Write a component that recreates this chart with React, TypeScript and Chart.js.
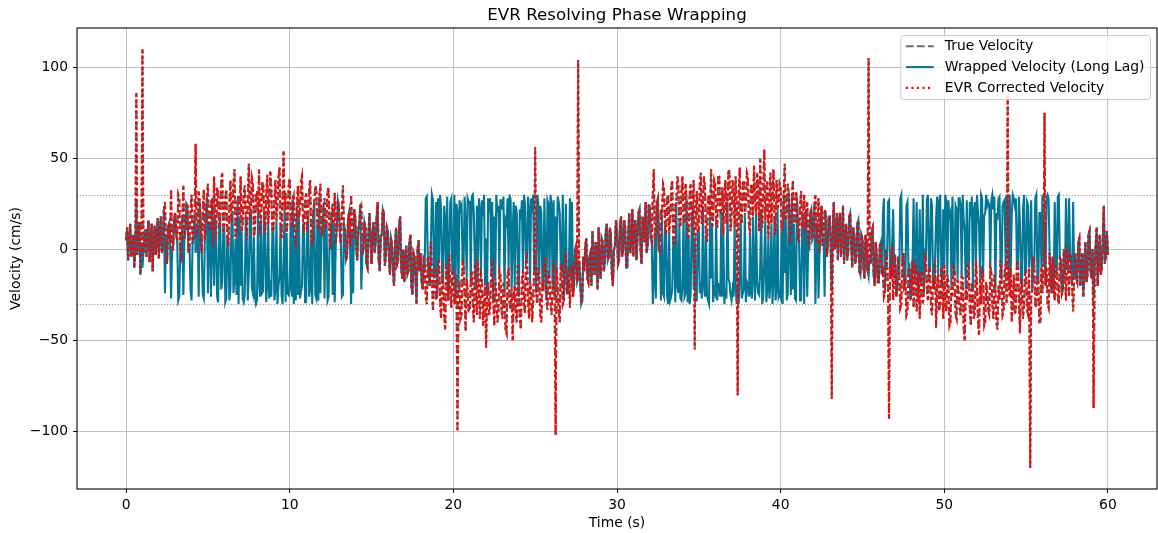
import React, { useEffect, useRef } from "react";
import { Chart, registerables } from "chart.js";

Chart.register(...registerables);

// ---- data (sampled every 1/16 s from 0 s to 60 s) ----
const sampleStep = 0.0625;

const trueVelocity = [
  5, 12, -6, 3, 14, -4, 1, 8, -10, 2, 86, -3, 9, 15, -14, 4,
  110, -2, 6, 11, -4, 9, 16, -7, 2, 14, -12, 5, 13, -3, 8, 17,
  -5, 10, 18, -2, 3, 22, 26, 6, -8, 12, 14, 4, 33, -1, 1, 16,
  20, 8, 5, 30, 28, 0, -3, 18, 35, 6, 10, 25, 24, -2, 2, 21,
  30, 3, 8, 19, 58, 7, 12, 32, 26, 10, -2, 22, 33, 5, 16, 28,
  36, 14, 10, 25, 28, 2, 40, 19, 6, 34, 31, 12, 18, 38, 42, 9,
  12, 29, 33, 8, 2, 24, 38, 15, 21, 36, 44, 6, 9, 27, 30, 18,
  40, 10, 14, 31, 35, 18, 5, 28, 47, 16, 22, 39, 36, 7, 11, 30,
  32, 19, 44, 12, 15, 36, 37, 20, 8, 29, 41, 14, 26, 43, 34, 10,
  10, 27, 38, 16, 24, 40, 45, 13, 6, 30, 54, 22, 31, 9, 17, 35,
  39, 15, 12, 28, 30, 7, 4, 24, 35, 17, 22, 37, 40, 14, 9, 26,
  31, 10, 18, 34, 38, 6, 2, 20, 26, 35, 33, 13, 11, 29, 36, 8,
  8, 24, 28, 11, 16, 32, 34, 5, 0, 21, 25, 14, 31, 3, 12, 27,
  24, 9, 3, 20, 35, 14, 10, -6, -4, 17, 20, 2, 30, 11, 6, 22,
  18, 2, -6, 11, 14, 24, 25, -3, 0, 15, 12, -8, -10, 9, 20, 5,
  -8, 10, 15, -2, 4, 18, 26, -6, -12, 7, 8, 22, 20, -9, -3, 12,
  10, -4, -14, 6, 3, -12, -20, 2, 12, -8, -6, 14, 18, -10, -16, 0,
  -18, -5, 2, -14, -12, 4, 8, -20, -25, -2, -4, -16, -30, 0, 5, -12,
  -2, -18, -22, -6, -8, -26, -30, -4, -14, -20, 4, -12, -34, -16, -10, -28,
  -26, -8, -6, -30, -38, -12, -18, -36, -44, -10, -12, -28, -3, -22, -32, -14,
  -10, -30, -28, -14, -100, -22, -20, -38, -36, -6, -8, -26, -45, -16, -24, -34,
  -34, -18, -12, -30, -40, -8, -22, -36, -5, -26, -38, -14, -16, -42, -30, -20,
  -54, -24, -18, -36, -32, -10, -8, -28, -42, -16, -25, -40, -36, -12, -14, -33,
  -38, -18, -24, -44, -46, -14, -10, -30, -33, -22, -50, -26, -20, -36, -40, -8,
  -26, -38, -44, -16, -12, -30, -35, -6, -4, -28, -38, -18, -22, -40, -30, -10,
  56, -24, -30, -10, -14, -36, -40, -18, -20, -4, -8, -28, -33, -12, -16, -30,
  -36, -20, -6, -26, -102, -10, -22, -34, -40, -8, -12, -30, -28, -4, -2, -24,
  -24, -10, -32, -14, -8, -26, -20, 0, 2, -18, 104, -6, -16, -30, -28, -4,
  -12, 2, 6, -16, -18, -4, -2, -20, 10, -8, -14, 4, -5, -22, 12, -10,
  -16, 6, 4, -12, -8, 10, 14, -6, -4, 12, 8, -14, -20, 0, 2, 16,
  10, -8, -6, 14, 18, -4, 0, 16, 12, -10, -10, 8, 20, -2, 4, 22,
  -4, 12, 16, -6, 6, 20, 22, 0, -8, 18, 14, 4, 26, -2, 2, 24,
  24, 6, 4, 30, 44, 8, 10, 26, 28, 0, -2, 22, 18, 36, 34, 12,
  8, 28, 30, 10, 16, 34, 38, 4, 2, 24, 26, 40, 36, 14, 12, 32,
  40, 18, 14, 36, 28, 8, 6, 30, 36, 12, 22, 38, -55, 20, 32, 10,
  10, 36, 42, 14, 24, 40, 34, 8, 4, 28, 30, 18, 44, 12, 16, 38,
  36, 16, 12, 41, 40, 20, 22, 34, 8, 30, 38, 14, 26, 44, 42, 10,
  18, 38, 34, 12, 40, 24, -80, 30, 45, 16, 14, 36, 38, 20, 24, 42,
  40, 14, 8, 36, 33, 18, 46, 26, 20, 42, 36, 10, 50, 22, 12, 34,
  55, 16, 28, 38, 6, 24, 42, 14, 30, 44, 18, 8, 38, 22, 26, 36,
  34, 10, 12, 30, 47, 16, 20, 36, 30, 6, 8, 28, 38, 14, 16, 32,
  28, 8, 4, 24, 32, 12, 18, 30, 10, 22, 26, 4, 2, 20, 22, 6,
  8, 24, 30, 4, 14, 28, -2, 16, 24, 2, 6, 22, 20, -4, 0, 18,
  18, 2, -82, 12, 26, 0, 4, 20, -6, 14, 20, -4, 10, 24, -8, 6,
  14, -6, -2, 18, 20, 2, -10, 12, 8, -8, -4, 14, 16, -12, -14, 8,
  6, -10, -16, 8, 2, -12, 105, -4, -8, 10, 12, -14, -20, 4, -4, -18,
  -18, 2, 4, -14, -12, -26, -24, 0, -6, -20, -93, -10, -16, 2, -28, -8,
  -6, -26, -22, -4, -14, -32, -30, -8, -2, -20, -18, -36, -34, -12, -10, -28,
  -20, -6, -32, -16, -8, -34, -26, -12, -38, -18, -12, -30, -24, -2, -4, -22,
  -28, -12, -10, -32, -36, -16, -22, -6, -43, -20, -14, -34, -30, -10, -20, -38,
  -8, -30, -34, -14, -18, -42, -40, -20, -26, -10, -12, -36, -38, -16, -24, -32,
  -36, -14, -16, -44, -50, -22, -28, -8, -10, -34, -42, -18, -22, -38, -34, -6,
  -20, -40, -47, -16, -30, -12, -14, -42, -40, -18, -24, -34, -36, -10, -12, -30,
  -38, -14, -22, -40, -44, -20, -28, -6, -16, -36, -34, -12, -8, -30, 85, -18,
  -26, -10, -40, -30, -14, -36, -32, -8, -6, -28, -46, -16, -20, -38, -30, -12,
  -12, -34, -36, -10, -120, -26, -22, -4, -8, -32, -30, -14, -18, -40, -40, -10,
  -24, -6, 75, -20, -10, -30, -32, -2, -16, -24, -4, -22, -28, -8, -12, -26,
  -30, -4, -6, -24, -22, 0, -14, -28, 2, -12, -26, -2, -8, -20, -34, -14,
  -2, -16, -18, 4, 6, -20, -12, -2, -26, -8, 4, -18, -14, 8, 10, -12,
  -16, 0, -87, -12, 2, 12, -20, -2, 8, -14, -10, 6, 24, -8, -4, 10,
  -3,
];

const wrappedVelocity = [
  5, 12, -6, 3, 14, -4, 1, 8, -10, 2, 26, -3, 9, 15, -14, 4,
  -10, -2, 6, 11, -4, 9, 16, -7, 2, 14, -12, 5, 13, -3, 8, 17,
  -5, 10, 18, -2, 3, 22, -24, 6, -8, 12, 14, 4, -27, -1, 1, 16,
  20, 8, 5, -28, -26, 0, -3, 18, -25, 6, 10, 25, 24, -2, 2, -22,
  -28, 3, 8, 19, -2, 7, 12, -26, 26, 10, -2, -25, -27, 5, 16, 28,
  -24, 14, 10, -26, 28, 2, -20, 19, 6, -26, -29, 12, 18, -22, -18, 9,
  12, -29, -27, 8, 2, -28, -22, 15, 21, -24, -16, 6, -25, 27, -30, 18,
  -20, 10, -27, -29, -25, 18, 5, -28, -13, 16, 22, -21, -24, 7, -26, -30,
  -28, 19, -16, -26, 15, -24, -23, 20, 8, -29, -19, 14, -27, -17, -26, 10,
  10, -28, -22, 16, -30, -20, -15, 13, -25, -30, -6, 22, -29, 9, -24, -25,
  -21, 15, -26, 28, -30, 7, -28, 24, -25, 17, -27, -23, -20, 14, 9, -29,
  -29, 10, 18, -26, -22, 6, -30, 20, 26, -25, -27, 13, -28, 29, -24, 8,
  8, 24, -27, 11, 16, -28, -26, 5, 0, 21, -25, 14, -29, 3, 12, 27,
  24, 9, 3, -26, -25, 14, 10, -6, -4, 17, 20, 2, -30, 11, -24, 22,
  18, 2, -6, 11, 14, 24, -22, -3, 0, 15, 12, -8, -10, 9, 20, 5,
  -8, 10, 15, -2, 4, 18, 26, -6, -12, 7, 8, 22, 20, -9, -3, 12,
  10, -4, -14, 6, 3, -12, -20, 2, 12, -8, -6, 14, 18, -10, -16, 0,
  -18, -5, 2, -14, -12, 4, 8, -20, -25, -2, -4, -16, -30, 0, 5, -12,
  -2, -18, -22, -6, -8, 28, 29, -4, -14, -20, 4, 30, 27, -16, -10, 26,
  -26, 28, -6, 30, 22, -12, -18, 24, 16, -10, 29, -28, -3, 26, 28, -14,
  -10, 30, -28, 25, 20, -22, 27, 22, 24, -6, -8, 29, 15, -16, 28, 26,
  26, -18, 29, 30, 20, -8, -22, 24, -5, 28, 22, -14, 27, 18, 30, -20,
  6, -24, 28, 24, 28, -10, 26, -28, 18, -16, 30, 20, 24, -12, 27, 27,
  22, 29, -24, 16, 14, 28, -10, 30, 27, -22, 10, 26, -20, 24, 20, -8,
  -26, 22, 16, 27, -12, 30, 25, -6, -4, 29, 22, -18, 28, 20, 30, -10,
  -4, -24, 30, 26, -14, 24, 20, -18, -20, 28, -8, -28, 27, 25, -16, 30,
  24, -20, 27, -26, 18, -10, 29, 26, 20, -8, -12, 30, -28, -4, 25, -24,
  -24, -10, 28, -14, 26, -26, -20, 0, 2, -18, -16, -6, -16, -30, -28, -4,
  -12, 2, 6, -16, -18, -4, -2, -20, 10, -8, -14, 4, -5, -22, 12, -10,
  -16, 6, 4, -12, -8, 10, 14, -6, -4, 12, 8, -14, -20, 0, 2, 16,
  10, -8, -6, 14, 18, -4, 0, 16, 12, -10, -10, 8, 20, -2, 4, 22,
  -4, 12, 16, -6, 6, 20, 22, 0, -8, 18, 14, 4, 26, -2, 2, 24,
  24, 6, 4, -30, -16, 8, -27, 26, 28, 0, -2, -28, 18, -24, -26, 12,
  8, -26, -30, 10, -28, -26, -22, 4, 2, -29, 26, -20, -24, 14, -27, -28,
  -20, 18, -26, -24, 28, -29, 6, -30, -24, 12, 22, -22, 5, -28, -28, 10,
  10, -24, -18, -27, 24, -20, -26, 8, -25, -28, -30, 18, -16, 12, -29, -22,
  -24, 16, -28, -19, -20, -26, 22, -26, 8, -30, -22, -27, 26, -16, -18, -25,
  -28, -22, -26, 12, -20, -30, -20, -30, -15, 16, -27, -24, -22, 20, -29, -18,
  -20, -26, 8, -24, -27, 18, -14, -28, 20, -18, -24, -25, -10, 22, -30, -26,
  -5, 16, -29, -22, 6, -27, -18, 14, -30, -16, 18, -28, -22, 22, -26, -24,
  -26, 10, -30, 30, -13, 16, -28, -24, 30, 6, -25, 28, -22, 14, -27, -28,
  28, 8, 4, -28, -28, 12, 18, -30, 10, 22, -26, 4, 2, 20, 22, 6,
  8, 24, -30, 4, 14, -27, -2, 16, 24, 2, 6, -26, 20, -4, 0, 18,
  18, 2, -22, 12, 26, 0, 4, 20, -6, 14, 20, -4, 10, 24, -8, 6,
  14, -6, -2, 18, 20, 2, -10, 12, 8, -8, -4, 14, 16, -12, -14, 8,
  6, -10, -16, 8, 2, -12, -15, -4, -8, 10, 12, -14, -20, 4, -4, -18,
  -18, 2, 4, -14, 20, 28, -24, 0, -6, 26, 27, -10, -16, 2, 22, -8,
  -6, -26, -22, -4, -14, 28, 30, -8, -2, -20, -18, 24, 26, -12, -10, -28,
  -20, -6, 28, -16, -8, 26, -26, -12, 22, -18, -12, 30, -24, -2, -4, 27,
  30, -12, -10, 28, 24, -16, -22, -6, 17, 29, -14, 26, 30, -10, -20, 22,
  -8, 30, 26, -14, 27, 18, 20, -20, 29, -10, -12, 24, 22, -16, 28, 28,
  24, -14, 30, 16, 10, -22, 27, -8, -10, 26, 18, 29, -22, 22, 26, -6,
  30, 20, 13, -16, 30, 28, -14, 18, 20, 30, 24, 26, 24, -10, 27, 30,
  22, 29, -22, 20, 16, 28, 29, -6, -16, 24, 26, 27, -8, 30, 25, -18,
  30, -10, 20, 30, 28, 24, 28, -8, -6, 29, 14, -16, -20, 22, 30, -12,
  -12, 26, 24, -10, 0, 27, -22, -4, -8, 28, 30, -14, -18, 20, 20, -10,
  30, -6, 15, -20, 28, 30, 28, -2, -16, -24, -4, -22, 26, -8, -12, 29,
  30, -4, -6, -24, -22, 0, -14, 28, 2, -12, 28, -2, -8, -20, 26, -14,
  -2, -16, -18, 4, 6, -20, -12, -2, -26, -8, 4, -18, -14, 8, 10, -12,
  -16, 0, -27, -12, 2, 12, -20, -2, 8, -14, -10, 6, 24, -8, -4, 10,
  -3,
];

const evrCorrectedVelocity = [
  5, 12, -6, 3, 14, -4, 1, 8, -10, 2, 86, -3, 9, 15, -14, 4,
  110, -2, 6, 11, -4, 9, 16, -7, 2, 14, -12, 5, 13, -3, 8, 17,
  -5, 10, 18, -2, 3, 22, 26, 6, -8, 12, 14, 4, 33, -1, 1, 16,
  20, 8, 5, 30, 28, 0, -3, 18, 35, 6, 10, 25, 24, -2, 2, 21,
  30, 3, 8, 19, 58, 7, 12, 32, 26, 10, -2, 22, 33, 5, 16, 28,
  36, 14, 10, 25, 28, 2, 40, 19, 6, 34, 31, 12, 18, 38, 42, 9,
  12, 29, 33, 8, 2, 24, 38, 15, 21, 36, 44, 6, 9, 27, 30, 18,
  40, 10, 14, 31, 35, 18, 5, 28, 47, 16, 22, 39, 36, 7, 11, 30,
  32, 19, 44, 12, 15, 36, 37, 20, 8, 29, 41, 14, 26, 43, 34, 10,
  10, 27, 38, 16, 24, 40, 45, 13, 6, 30, 54, 22, 31, 9, 17, 35,
  39, 15, 12, 28, 30, 7, 4, 24, 35, 17, 22, 37, 40, 14, 9, 26,
  31, 10, 18, 34, 38, 6, 2, 20, 26, 35, 33, 13, 11, 29, 36, 8,
  8, 24, 28, 11, 16, 32, 34, 5, 0, 21, 25, 14, 31, 3, 12, 27,
  24, 9, 3, 20, 35, 14, 10, -6, -4, 17, 20, 2, 30, 11, 6, 22,
  18, 2, -6, 11, 14, 24, 25, -3, 0, 15, 12, -8, -10, 9, 20, 5,
  -8, 10, 15, -2, 4, 18, 26, -6, -12, 7, 8, 22, 20, -9, -3, 12,
  10, -4, -14, 6, 3, -12, -20, 2, 12, -8, -6, 14, 18, -10, -16, 0,
  -18, -5, 2, -14, -12, 4, 8, -20, -25, -2, -4, -16, -30, 0, 5, -12,
  -2, -18, -22, -6, -8, -26, -30, -4, -14, -20, 4, -12, -34, -16, -10, -28,
  -26, -8, -6, -30, -38, -12, -18, -36, -44, -10, -12, -28, -3, -22, -32, -14,
  -10, -30, -28, -14, -100, -22, -20, -38, -36, -6, -8, -26, -45, -16, -24, -34,
  -34, -18, -12, -30, -40, -8, -22, -36, -5, -26, -38, -14, -16, -42, -30, -20,
  -54, -24, -18, -36, -32, -10, -8, -28, -42, -16, -25, -40, -36, -12, -14, -33,
  -38, -18, -24, -44, -46, -14, -10, -30, -33, -22, -50, -26, -20, -36, -40, -8,
  -26, -38, -44, -16, -12, -30, -35, -6, -4, -28, -38, -18, -22, -40, -30, -10,
  56, -24, -30, -10, -14, -36, -40, -18, -20, -4, -8, -28, -33, -12, -16, -30,
  -36, -20, -6, -26, -102, -10, -22, -34, -40, -8, -12, -30, -28, -4, -2, -24,
  -24, -10, -32, -14, -8, -26, -20, 0, 2, -18, 104, -6, -16, -30, -28, -4,
  -12, 2, 6, -16, -18, -4, -2, -20, 10, -8, -14, 4, -5, -22, 12, -10,
  -16, 6, 4, -12, -8, 10, 14, -6, -4, 12, 8, -14, -20, 0, 2, 16,
  10, -8, -6, 14, 18, -4, 0, 16, 12, -10, -10, 8, 20, -2, 4, 22,
  -4, 12, 16, -6, 6, 20, 22, 0, -8, 18, 14, 4, 26, -2, 2, 24,
  24, 6, 4, 30, 44, 8, 10, 26, 28, 0, -2, 22, 18, 36, 34, 12,
  8, 28, 30, 10, 16, 34, 38, 4, 2, 24, 26, 40, 36, 14, 12, 32,
  40, 18, 14, 36, 28, 8, 6, 30, 36, 12, 22, 38, -55, 20, 32, 10,
  10, 36, 42, 14, 24, 40, 34, 8, 4, 28, 30, 18, 44, 12, 16, 38,
  36, 16, 12, 41, 40, 20, 22, 34, 8, 30, 38, 14, 26, 44, 42, 10,
  18, 38, 34, 12, 40, 24, -80, 30, 45, 16, 14, 36, 38, 20, 24, 42,
  40, 14, 8, 36, 33, 18, 46, 26, 20, 42, 36, 10, 50, 22, 12, 34,
  55, 16, 28, 38, 6, 24, 42, 14, 30, 44, 18, 8, 38, 22, 26, 36,
  34, 10, 12, 30, 47, 16, 20, 36, 30, 6, 8, 28, 38, 14, 16, 32,
  28, 8, 4, 24, 32, 12, 18, 30, 10, 22, 26, 4, 2, 20, 22, 6,
  8, 24, 30, 4, 14, 28, -2, 16, 24, 2, 6, 22, 20, -4, 0, 18,
  18, 2, -82, 12, 26, 0, 4, 20, -6, 14, 20, -4, 10, 24, -8, 6,
  14, -6, -2, 18, 20, 2, -10, 12, 8, -8, -4, 14, 16, -12, -14, 8,
  6, -10, -16, 8, 2, -12, 105, -4, -8, 10, 12, -14, -20, 4, -4, -18,
  -18, 2, 4, -14, -12, -26, -24, 0, -6, -20, -93, -10, -16, 2, -28, -8,
  -6, -26, -22, -4, -14, -32, -30, -8, -2, -20, -18, -36, -34, -12, -10, -28,
  -20, -6, -32, -16, -8, -34, -26, -12, -38, -18, -12, -30, -24, -2, -4, -22,
  -28, -12, -10, -32, -36, -16, -22, -6, -43, -20, -14, -34, -30, -10, -20, -38,
  -8, -30, -34, -14, -18, -42, -40, -20, -26, -10, -12, -36, -38, -16, -24, -32,
  -36, -14, -16, -44, -50, -22, -28, -8, -10, -34, -42, -18, -22, -38, -34, -6,
  -20, -40, -47, -16, -30, -12, -14, -42, -40, -18, -24, -34, -36, -10, -12, -30,
  -38, -14, -22, -40, -44, -20, -28, -6, -16, -36, -34, -12, -8, -30, 85, -18,
  -26, -10, -40, -30, -14, -36, -32, -8, -6, -28, -46, -16, -20, -38, -30, -12,
  -12, -34, -36, -10, -120, -26, -22, -4, -8, -32, -30, -14, -18, -40, -40, -10,
  -24, -6, 75, -20, -10, -30, -32, -2, -16, -24, -4, -22, -28, -8, -12, -26,
  -30, -4, -6, -24, -22, 0, -14, -28, 2, -12, -26, -2, -8, -20, -34, -14,
  -2, -16, -18, 4, 6, -20, -12, -2, -26, -8, 4, -18, -14, 8, 10, -12,
  -16, 0, -87, -12, 2, 12, -20, -2, 8, -14, -10, 6, 24, -8, -4, 10,
  -3,
];

const xTickValues = [0, 10, 20, 30, 40, 50, 60];
const yTickValues = [-100, -50, 0, 50, 100];
const nyquistVelocity = 30;
const seriesLabels = ["True Velocity", "Wrapped Velocity (Long Lag)", "EVR Corrected Velocity"];
const chartTitle = "EVR Resolving Phase Wrapping";
const xAxisLabel = "Time (s)";
const yAxisLabel = "Velocity (cm/s)";

// ---- styles ----
const FONT = "'DejaVu Sans', 'Liberation Sans', sans-serif";
const LW = 2.08;
const GRAY = "#6a6a6a";
const TEAL = "#007896";
const RED = "#ff0000";
const DASH = [7.7, 3.3];
const DOT = [2.08, 3.44];
const DOT_DENSE = [2.7, 2.8];

function toPoints(values: number[]) {
  return values.map((v, i) => ({ x: i * sampleStep, y: v }));
}

function fmtTick(v: number) {
  return v < 0 ? "\u2212" + Math.abs(v) : String(v);
}

const decorPlugin = {
  id: "decor",
  beforeDatasetsDraw(chart: any) {
    const { ctx, chartArea, scales } = chart;
    ctx.save();
    ctx.strokeStyle = "rgba(128,128,128,0.85)";
    ctx.lineWidth = 1.1;
    ctx.setLineDash([1.1, 1.8]);
    for (const v of [nyquistVelocity, -nyquistVelocity]) {
      const y = Math.round(scales.y.getPixelForValue(v)) + 0.5;
      ctx.beginPath();
      ctx.moveTo(chartArea.left, y);
      ctx.lineTo(chartArea.right, y);
      ctx.stroke();
    }
    ctx.restore();
  },
  afterDraw(chart: any) {
    const { ctx, chartArea } = chart;
    const { left, right, top, bottom } = chartArea;
    ctx.save();
    ctx.strokeStyle = "#000";
    ctx.lineWidth = 1.1;
    ctx.setLineDash([]);
    ctx.strokeRect(left, top, right - left, bottom - top);

    ctx.fillStyle = "#000";
    ctx.font = `16.7px ${FONT}`;
    ctx.textAlign = "center";
    ctx.textBaseline = "alphabetic";
    ctx.fillText(chartTitle, (left + right) / 2, top - 8.5);

    ctx.font = `13.9px ${FONT}`;
    ctx.textBaseline = "middle";
    ctx.fillText(xAxisLabel, (left + right) / 2, 523);
    ctx.save();
    ctx.translate(16, (top + bottom) / 2);
    ctx.rotate(-Math.PI / 2);
    ctx.fillText(yAxisLabel, 0, 0);
    ctx.restore();

    // legend
    ctx.font = `13.9px ${FONT}`;
    const fs = 13.9;
    const maxText = Math.max(...seriesLabels.map((s) => ctx.measureText(s).width));
    const pad = 0.4 * fs;
    const handleLen = 2 * fs;
    const handlePad = 0.8 * fs;
    const boxW = pad + handleLen + handlePad + maxText + pad;
    const boxH = 64;
    const boxR = right - 7;
    const boxL = boxR - boxW;
    const boxT = top + 7;
    ctx.beginPath();
    (ctx as any).roundRect(boxL + 0.5, boxT + 0.5, boxW, boxH, 3);
    ctx.fillStyle = "rgba(255,255,255,0.8)";
    ctx.fill();
    ctx.strokeStyle = "#cccccc";
    ctx.lineWidth = 1;
    ctx.stroke();

    const styles = [
      { color: GRAY, dash: DASH },
      { color: TEAL, dash: [] as number[] },
      { color: RED, dash: DOT },
    ];
    seriesLabels.forEach((label, i) => {
      const y = boxT + 11.3 + i * 20.8;
      ctx.beginPath();
      ctx.strokeStyle = styles[i].color;
      ctx.lineWidth = LW;
      ctx.setLineDash(styles[i].dash);
      ctx.moveTo(boxL + pad, y);
      ctx.lineTo(boxL + pad + handleLen, y);
      ctx.stroke();
      ctx.setLineDash([]);
      ctx.fillStyle = "#000";
      ctx.textAlign = "left";
      ctx.textBaseline = "middle";
      ctx.fillText(label, boxL + pad + handleLen + handlePad, y + 0.5);
    });
    ctx.restore();
  },
};

export default function App() {
  const canvasRef = useRef<HTMLCanvasElement | null>(null);

  useEffect(() => {
    const canvas = canvasRef.current;
    if (!canvas) return;
    const chart = new Chart(canvas, {
      type: "line",
      data: {
        datasets: [
          {
            label: seriesLabels[0],
            data: toPoints(trueVelocity),
            borderColor: GRAY,
            borderWidth: LW,
            borderDash: DASH,
            pointRadius: 0,
            tension: 0,
            fill: false,
            order: 3,
          },
          {
            label: seriesLabels[1],
            data: toPoints(wrappedVelocity),
            borderColor: TEAL,
            borderWidth: LW,
            pointRadius: 0,
            tension: 0,
            fill: false,
            order: 2,
          },
          {
            label: seriesLabels[2],
            data: toPoints(evrCorrectedVelocity),
            borderColor: RED,
            borderWidth: LW,
            borderDash: DOT_DENSE,
            pointRadius: 0,
            tension: 0,
            fill: false,
            order: 1,
          },
        ],
      },
      options: {
        animation: false,
        responsive: false,
        devicePixelRatio: 1,
        parsing: false,
        normalized: true,
        layout: { padding: { top: 28, right: 1, left: 0, bottom: 0 } },
        plugins: {
          legend: { display: false },
          tooltip: { enabled: false },
          title: { display: false },
        },
        scales: {
          x: {
            type: "linear",
            min: -3,
            max: 63,
            afterBuildTicks: (scale: any) => {
              scale.ticks = xTickValues.map((v) => ({ value: v }));
            },
            afterFit: (scale: any) => {
              scale.height = 44;
            },
            ticks: {
              color: "#000",
              font: { family: FONT, size: 13.9 },
              padding: 4,
              maxRotation: 0,
              autoSkip: false,
              callback: (v: any) => fmtTick(Number(v)),
            },
            grid: {
              color: "#b0b0b0",
              lineWidth: 0.8,
              tickColor: "#000",
              tickLength: 4,
              tickWidth: 1,
            },
            border: { display: false },
          },
          y: {
            type: "linear",
            min: -131.5,
            max: 121.5,
            afterBuildTicks: (scale: any) => {
              scale.ticks = yTickValues.map((v) => ({ value: v }));
            },
            afterFit: (scale: any) => {
              scale.width = 77;
            },
            ticks: {
              color: "#000",
              font: { family: FONT, size: 13.9 },
              padding: 5,
              autoSkip: false,
              callback: (v: any) => fmtTick(Number(v)),
            },
            grid: {
              color: "#b0b0b0",
              lineWidth: 0.8,
              tickColor: "#000",
              tickLength: 4,
              tickWidth: 1,
            },
            border: { display: false },
          },
        },
      },
      plugins: [decorPlugin],
    } as any);
    return () => chart.destroy();
  }, []);

  return (
    <div style={{ position: "absolute", left: 0, top: 0, width: 1158, height: 533, background: "#fff" }}>
      <canvas ref={canvasRef} width={1158} height={533} style={{ display: "block", width: 1158, height: 533 }} />
    </div>
  );
}
